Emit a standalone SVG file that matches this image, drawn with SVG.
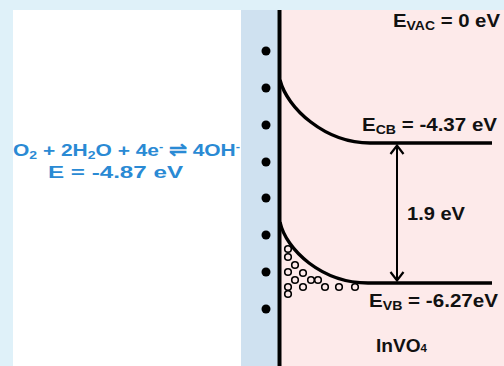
<svg xmlns="http://www.w3.org/2000/svg" width="504" height="366" viewBox="0 0 504 366">
<style>
.t{font-family:"Liberation Sans",Arial,sans-serif;font-weight:bold;font-size:17.5px;fill:#111}
.b{font-family:"Liberation Sans",Arial,sans-serif;font-weight:bold;font-size:16.5px;fill:#2a8ad4}
.dot{fill:#000}
.hole{fill:none;stroke:#000;stroke-width:1.6}
.band{fill:none;stroke:#000;stroke-width:3.4;stroke-linecap:butt}
</style>
<rect x="0" y="0" width="504" height="366" fill="#dff1f9"/>
<rect x="13" y="10" width="228" height="356" fill="#ffffff"/>
<rect x="241" y="10" width="36" height="356" fill="#cfe1f0"/>
<rect x="280" y="10" width="224" height="356" fill="#fdeaea"/>
<line x1="279.5" y1="10" x2="279.5" y2="366" stroke="#000" stroke-width="4"/>
<g id="charges">
<circle class="dot" cx="266" cy="51" r="4.5"/>
<circle class="dot" cx="266" cy="88" r="4.5"/>
<circle class="dot" cx="266" cy="125" r="4.5"/>
<circle class="dot" cx="266" cy="162" r="4.5"/>
<circle class="dot" cx="266" cy="198" r="4.5"/>
<circle class="dot" cx="266" cy="235" r="4.5"/>
<circle class="dot" cx="266" cy="272" r="4.5"/>
<circle class="dot" cx="266" cy="309" r="4.5"/>
</g>
<g id="holes">
<circle class="hole" cx="288" cy="249" r="3.3"/>
<circle class="hole" cx="288" cy="257" r="3.3"/>
<circle class="hole" cx="295" cy="265" r="3.3"/>
<circle class="hole" cx="288" cy="272" r="3.3"/>
<circle class="hole" cx="303" cy="273" r="3.3"/>
<circle class="hole" cx="295" cy="280" r="3.3"/>
<circle class="hole" cx="311" cy="280" r="3.3"/>
<circle class="hole" cx="318" cy="280" r="3.3"/>
<circle class="hole" cx="288" cy="287" r="3.3"/>
<circle class="hole" cx="303" cy="287" r="3.3"/>
<circle class="hole" cx="325" cy="287" r="3.3"/>
<circle class="hole" cx="339" cy="287" r="3.3"/>
<circle class="hole" cx="355" cy="287" r="3.3"/>
<circle class="hole" cx="288" cy="294" r="3.3"/>
</g>
<g id="cb">
<path class="band" d="M280,80 C287,108 325,143 370,143 L492,143"/>
<text class="t" x="362" y="131" textLength="135" lengthAdjust="spacingAndGlyphs">E<tspan font-size="12" dy="3">CB</tspan><tspan dy="-3"> = -4.37 eV</tspan></text>
</g>
<g id="vb">
<path class="band" d="M280,222 C286,250 322,283 368,283 L492,283"/>
<text class="t" x="369" y="307" textLength="129" lengthAdjust="spacingAndGlyphs">E<tspan font-size="12" dy="3">VB</tspan><tspan dy="-3"> = -6.27eV</tspan></text>
</g>
<g id="vac">
<text class="t" x="393" y="27" textLength="107" lengthAdjust="spacingAndGlyphs">E<tspan font-size="12" dy="3">VAC</tspan><tspan dy="-3"> = 0 eV</tspan></text>
</g>
<g id="connectors">
<line x1="397" y1="145" x2="397" y2="281" stroke="#000" stroke-width="2"/>
<polyline points="390.5,154 397,145.5 403.5,154" fill="none" stroke="#000" stroke-width="2.2"/>
<polyline points="390.5,272 397,280.5 403.5,272" fill="none" stroke="#000" stroke-width="2.2"/>
</g>
<g id="gap">
<text class="t" x="407" y="220" textLength="58" lengthAdjust="spacingAndGlyphs">1.9 eV</text>
</g>
<g id="material">
<text class="t" x="376" y="352" font-size="15" textLength="51" lengthAdjust="spacingAndGlyphs">InVO<tspan font-size="10.5">4</tspan></text>
</g>
<g id="redox">
<text class="b" x="13" y="156" textLength="227" lengthAdjust="spacingAndGlyphs">O<tspan font-size="11" dy="2.5">2</tspan><tspan dy="-2.5"> + 2H</tspan><tspan font-size="11" dy="2.5">2</tspan><tspan dy="-2.5">O + 4e</tspan><tspan font-size="10" dy="-6">-</tspan><tspan dy="6"> ⇌ 4OH</tspan><tspan font-size="10" dy="-6">-</tspan></text>
<text class="b" x="48" y="178" textLength="135" lengthAdjust="spacingAndGlyphs">E = -4.87 eV</text>
</g>
</svg>
